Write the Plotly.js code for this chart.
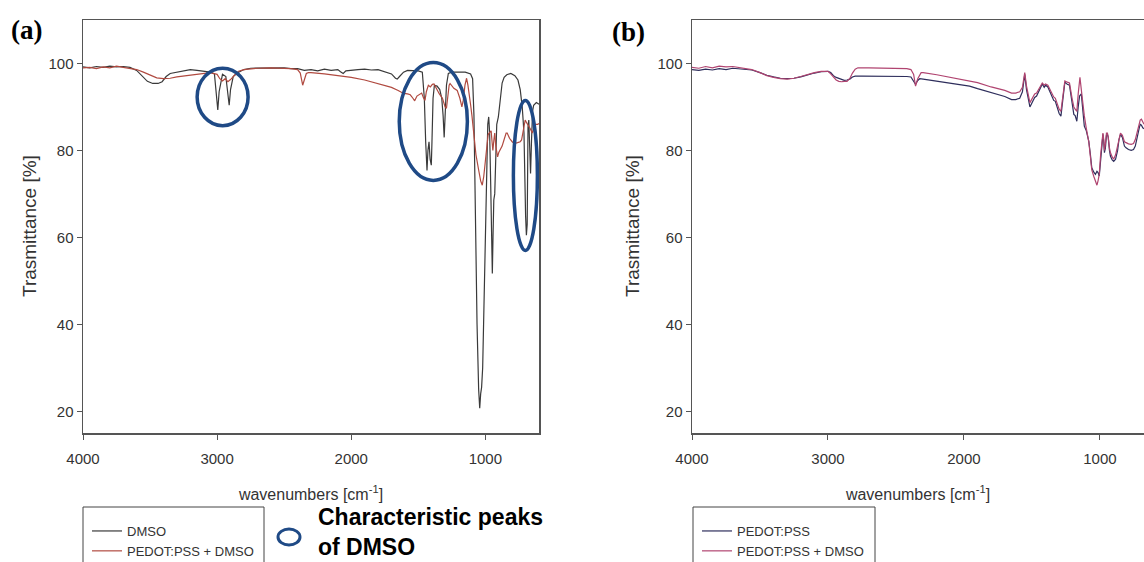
<!DOCTYPE html>
<html>
<head>
<meta charset="utf-8">
<script src="https://cdn.plot.ly/plotly-3.0.1.min.js"></script>
<style>html,body{margin:0;padding:0;background:#fff;}#chart{width:1144px;height:562px;}</style>
</head>
<body>
<div id="chart"></div>
<script>
// ---------- Panel (a) ----------
const dmsoWn = [4000,3950,3900,3850,3800,3750,3700,3650,3600,3560,3520,3480,3440,3410,3380,3350,3300,3250,3200,3150,3100,3050,3020,3005,2995,2985,2960,2935,2920,2910,2900,2880,2850,2800,2750,2700,2600,2500,2450,2400,2350,2300,2250,2200,2150,2100,2080,2060,2040,2000,1950,1900,1850,1800,1750,1700,1670,1657,1640,1610,1580,1540,1500,1470,1455,1445,1435,1428,1420,1412,1403,1398,1390,1380,1360,1340,1325,1315,1307,1300,1290,1276,1250,1200,1150,1110,1095,1085,1075,1062,1050,1042,1035,1028,1020,1010,1000,990,982,975,968,960,953,948,943,937,930,922,915,903,890,875,860,840,810,780,757,740,725,712,700,694,688,682,676,670,663,656,648,640,620,600];
const dmsoT = [99.2,99.0,99.3,99.1,99.4,99.2,99.3,99.1,98.4,97.2,95.9,95.4,95.4,95.8,97.0,97.7,98.0,98.4,98.6,98.4,98.2,98.0,97.6,93.0,89.3,93.5,97.5,97.0,93.5,90.4,94.0,97.0,97.8,98.6,98.9,98.9,99.0,99.0,98.8,98.8,98.4,98.6,98.3,98.7,98.4,98.6,98.1,97.7,98.3,98.5,98.6,98.7,98.5,98.6,98.1,97.6,96.6,96.4,97.0,98.0,98.4,98.3,98.3,98.0,92.0,82.0,75.4,80.0,82.0,78.0,76.6,82.0,92.0,95.0,94.8,94.0,92.0,88.0,83.0,88.0,95.0,97.7,98.0,98.0,98.0,97.6,96.5,88.0,65.0,40.0,25.0,20.7,24.0,25.5,30.0,45.0,65.0,80.0,86.0,87.7,84.0,72.0,58.0,51.7,60.0,68.6,70.0,82.4,86.0,87.7,92.0,95.5,96.8,97.4,97.7,97.2,96.2,94.0,90.0,84.0,65.0,60.5,63.0,85.4,87.0,80.0,74.7,82.0,89.0,90.4,91.0,90.6];

const mixAWn = [4000,3950,3900,3850,3800,3750,3700,3650,3600,3550,3500,3450,3400,3350,3300,3250,3200,3150,3100,3050,3000,2980,2960,2940,2920,2900,2870,2840,2800,2750,2700,2600,2500,2450,2400,2380,2362,2350,2335,2320,2300,2200,2100,2000,1900,1800,1700,1650,1610,1580,1560,1540,1527,1510,1490,1475,1460,1450,1440,1425,1410,1395,1383,1370,1355,1343,1320,1300,1290,1280,1270,1263,1250,1235,1210,1190,1175,1165,1152,1140,1130,1120,1110,1100,1087,1070,1050,1035,1023,1012,1000,990,980,975,966,957,950,944,936,930,922,915,909,900,890,875,860,845,837,820,800,784,760,740,730,718,708,703,695,685,677,665,650,640,625,610,600];
const mixAT = [99.0,99.1,98.8,99.2,99.0,99.4,99.1,98.9,98.6,98.0,97.3,96.7,96.5,96.6,96.9,97.1,97.4,97.6,97.8,97.9,97.5,96.5,96.0,96.5,95.8,96.3,97.3,98.2,98.6,98.8,98.9,99.0,98.9,98.8,98.6,97.8,95.0,96.3,97.7,97.9,97.9,97.6,97.2,96.8,96.2,95.4,94.5,93.8,93.1,93.0,92.8,92.0,91.4,92.5,93.0,93.2,92.0,91.5,93.5,95.0,94.6,95.2,95.3,94.6,93.5,93.0,92.0,90.0,89.7,92.5,95.0,95.4,94.8,94.3,93.8,92.0,90.0,91.5,95.0,96.6,95.0,92.0,90.5,88.0,83.9,79.0,75.5,73.0,72.0,74.0,77.5,81.5,83.5,83.9,84.3,84.5,82.0,80.0,82.5,84.0,81.0,79.0,78.5,79.5,80.0,81.0,82.5,84.0,84.0,82.8,82.0,81.6,81.8,82.0,82.4,84.5,86.5,87.0,86.5,86.0,85.8,85.0,84.0,85.0,86.0,86.0,86.2];

// ---------- Panel (b) ----------
const pssWn = [4000,3950,3900,3850,3800,3750,3700,3650,3600,3560,3500,3450,3400,3350,3300,3250,3200,3150,3100,3050,3000,2980,2960,2940,2920,2900,2880,2860,2840,2820,2800,2750,2700,2600,2500,2420,2390,2370,2356,2340,2325,2300,2200,2100,2000,1959,1900,1800,1700,1650,1620,1590,1570,1553,1540,1515,1500,1480,1466,1445,1424,1410,1400,1383,1360,1340,1328,1300,1287,1275,1258,1240,1224,1205,1192,1182,1170,1160,1150,1137,1125,1115,1100,1082,1070,1060,1045,1033,1022,1014,1005,995,985,978,972,967,960,952,945,939,930,923,910,899,885,870,860,849,835,820,808,790,770,753,740,725,712,704,695,685,676];
const pssT = [98.6,98.4,98.7,98.5,98.8,98.6,98.9,98.7,98.6,98.5,97.9,97.3,96.9,96.6,96.5,96.6,96.9,97.4,97.8,98.1,98.2,97.9,97.2,96.8,96.6,96.3,96.1,96.2,96.4,96.9,97.1,97.1,97.1,97.0,97.0,97.0,96.9,96.0,95.2,96.1,96.5,96.4,95.9,95.4,95.0,94.8,94.2,93.3,92.4,91.7,91.7,92.0,93.5,97.5,94.0,90.0,91.0,92.2,92.5,93.8,95.3,94.5,95.0,94.6,93.0,91.5,91.3,88.5,87.9,91.0,95.7,95.2,95.0,91.0,88.3,88.0,86.7,90.0,92.5,93.0,88.0,85.6,84.5,82.1,79.0,76.0,75.0,74.5,75.2,74.9,74.1,78.0,82.0,83.7,82.0,79.5,80.5,83.5,83.7,83.0,80.0,78.7,77.8,77.5,78.0,80.0,82.5,83.7,83.0,81.0,80.6,80.2,80.0,80.2,81.0,82.8,85.0,86.0,85.8,85.2,85.0];

const mixBWn = [4000,3950,3900,3850,3800,3750,3700,3650,3600,3560,3500,3450,3400,3350,3300,3250,3200,3150,3100,3050,3000,2980,2960,2940,2920,2900,2880,2860,2840,2820,2800,2780,2700,2600,2500,2420,2390,2370,2356,2340,2315,2300,2200,2100,2000,1959,1900,1800,1700,1650,1620,1590,1570,1553,1540,1515,1500,1480,1466,1445,1424,1410,1400,1383,1360,1340,1328,1300,1287,1275,1258,1240,1224,1205,1192,1182,1170,1160,1147,1137,1125,1115,1100,1082,1070,1060,1045,1033,1022,1014,1005,995,985,978,972,967,960,952,945,939,930,923,910,899,885,870,860,849,835,820,808,790,770,753,740,725,712,704,695,685,676];
const mixBT = [99.1,98.9,99.3,99.0,99.4,99.2,99.3,99.0,98.8,98.6,97.9,97.2,96.8,96.5,96.4,96.6,97.0,97.5,97.9,98.2,98.2,97.6,96.8,96.2,95.9,95.8,95.9,95.9,96.5,97.8,98.7,99.0,99.0,98.9,98.9,98.8,98.6,97.5,94.8,96.5,97.9,97.9,97.4,96.8,96.3,96.1,95.6,94.6,93.8,93.2,93.2,93.5,94.5,97.9,94.8,91.0,92.0,93.0,93.2,94.5,95.5,95.0,95.3,95.0,93.5,92.3,92.0,89.5,89.0,92.0,96.0,95.7,95.5,92.0,90.0,89.5,89.0,93.0,96.8,94.0,90.0,88.0,85.0,82.0,78.5,75.5,74.0,73.0,72.0,73.0,74.5,79.0,83.0,84.0,82.5,80.0,81.5,84.0,84.0,83.0,80.5,79.5,78.5,78.0,79.0,81.0,83.0,84.0,83.5,82.0,81.8,81.5,81.4,81.6,82.5,84.5,86.0,87.0,87.2,86.5,86.0];

// ---------- Labels ----------
const seriesNamesA = ['DMSO', 'PEDOT:PSS + DMSO'];
const seriesNamesB = ['PEDOT:PSS', 'PEDOT:PSS + DMSO'];
const xTickVals = [4000, 3000, 2000, 1000];
const yTickVals = [20, 40, 60, 80, 100];
const yTitle = 'Trasmittance [%]';
const xTitle = 'wavenumbers [cm<sup>-1</sup>]';
const panelLabels = ['(a)', '(b)'];
const noteText = 'Characteristic peaks<br>of DMSO';
// highlighted DMSO peak regions [wn_high, wn_low, T_high, T_low]
const peakRegions = [[3149, 2769, 98.9, 85.7], [1642, 1134, 100.2, 73.1], [791, 612, 91.5, 57.0]];

const W = 1144, H = 562;
const px = v => v / W;
const py = v => 1 - v / H;
const NAVY = '#1f4a86';
const sans = 'Liberation Sans, Arial, sans-serif';
const serif = 'Liberation Serif, Times New Roman, serif';

const traces = [
  {x: dmsoWn, y: dmsoT, name: seriesNamesA[0], type: 'scatter', mode: 'lines',
   line: {color: '#3a3a3a', width: 1.2}, xaxis: 'x', yaxis: 'y', legend: 'legend'},
  {x: mixAWn, y: mixAT, name: seriesNamesA[1], type: 'scatter', mode: 'lines',
   line: {color: '#b04a40', width: 1.2}, xaxis: 'x', yaxis: 'y', legend: 'legend'},
  {x: pssWn, y: pssT, name: seriesNamesB[0], type: 'scatter', mode: 'lines',
   line: {color: '#2e2e5c', width: 1.2}, xaxis: 'x2', yaxis: 'y2', legend: 'legend2'},
  {x: mixBWn, y: mixBT, name: seriesNamesB[1], type: 'scatter', mode: 'lines',
   line: {color: '#b04470', width: 1.2}, xaxis: 'x2', yaxis: 'y2', legend: 'legend2'}
];

const axBase = {
  showline: true, linecolor: '#555', linewidth: 1.5, mirror: true,
  ticks: 'outside', ticklen: 5, tickwidth: 1, tickcolor: '#555',
  showgrid: false, zeroline: false,
  tickfont: {family: sans, size: 15, color: '#333'}
};
const xAx = (dom, rng) => Object.assign({}, axBase, {
  domain: dom, range: rng, tickvals: xTickVals, ticktext: xTickVals.map(String),
  ticklabelstandoff: 6,
  title: {text: xTitle, font: {family: sans, size: 16, color: '#333'}, standoff: 23}
});
const yAx = (anchor, mirror) => Object.assign({}, axBase, {
  domain: [py(433), py(20)], range: [15, 110], tickvals: yTickVals, anchor: anchor, mirror: mirror
});

const shapes = peakRegions.map(r => ({
  type: 'circle', xref: 'x', yref: 'y', x0: r[0], x1: r[1], y0: r[2], y1: r[3],
  line: {color: NAVY, width: 3.5}
}));
shapes.push({type: 'rect', xref: 'paper', yref: 'paper', x0: px(83), x1: px(264), y0: py(575), y1: py(507),
  line: {color: '#444', width: 1}});
shapes.push({type: 'rect', xref: 'paper', yref: 'paper', x0: px(693), x1: px(875), y0: py(575), y1: py(507),
  line: {color: '#444', width: 1}});
shapes.push({type: 'circle', xref: 'paper', yref: 'paper', x0: px(278), x1: px(300), y0: py(545), y1: py(529),
  line: {color: NAVY, width: 3}});

const legFont = {family: sans, size: 13, color: '#333'};
const yTitleAnn = xp => ({text: yTitle, xref: 'paper', yref: 'paper', x: px(xp), y: py(226),
  xanchor: 'center', yanchor: 'middle', textangle: -90, showarrow: false,
  font: {family: sans, size: 19, color: '#333'}});
const layout = {
  width: W, height: H,
  margin: {l: 0, r: 0, t: 0, b: 0, autoexpand: false},
  paper_bgcolor: '#fff', plot_bgcolor: '#fff',
  xaxis: Object.assign(xAx([px(83), px(539)], [4000, 600]), {anchor: 'y'}),
  yaxis: yAx('x', true),
  xaxis2: Object.assign(xAx([px(692), 1], [4000, 676]), {anchor: 'y2'}),
  yaxis2: yAx('x2', false),
  showlegend: true,
  legend: {x: px(87), y: py(516), xref: 'container', yref: 'container', xanchor: 'left', yanchor: 'top',
    bgcolor: 'rgba(0,0,0,0)', borderwidth: 0, font: legFont, tracegroupgap: 0},
  legend2: {x: px(697), y: py(516), xref: 'container', yref: 'container', xanchor: 'left', yanchor: 'top',
    bgcolor: 'rgba(0,0,0,0)', borderwidth: 0, font: legFont, tracegroupgap: 0},
  shapes: shapes,
  annotations: [
    yTitleAnn(30),
    yTitleAnn(633),
    {text: '<b>' + panelLabels[0] + '</b>', xref: 'paper', yref: 'paper', x: px(26), y: py(30),
     xanchor: 'center', yanchor: 'middle', showarrow: false,
     font: {family: serif, size: 27, color: '#000'}},
    {text: '<b>' + panelLabels[1] + '</b>', xref: 'paper', yref: 'paper', x: px(628), y: py(32),
     xanchor: 'center', yanchor: 'middle', showarrow: false,
     font: {family: serif, size: 27, color: '#000'}},
    {text: '<b>' + noteText + '</b>', xref: 'paper', yref: 'paper', x: px(316), y: py(532),
     xanchor: 'left', yanchor: 'middle', align: 'left', showarrow: false,
     font: {family: sans, size: 23, color: '#000'}}
  ]
};

Plotly.newPlot('chart', traces, layout, {displayModeBar: false, staticPlot: true});
</script>
</body>
</html>
